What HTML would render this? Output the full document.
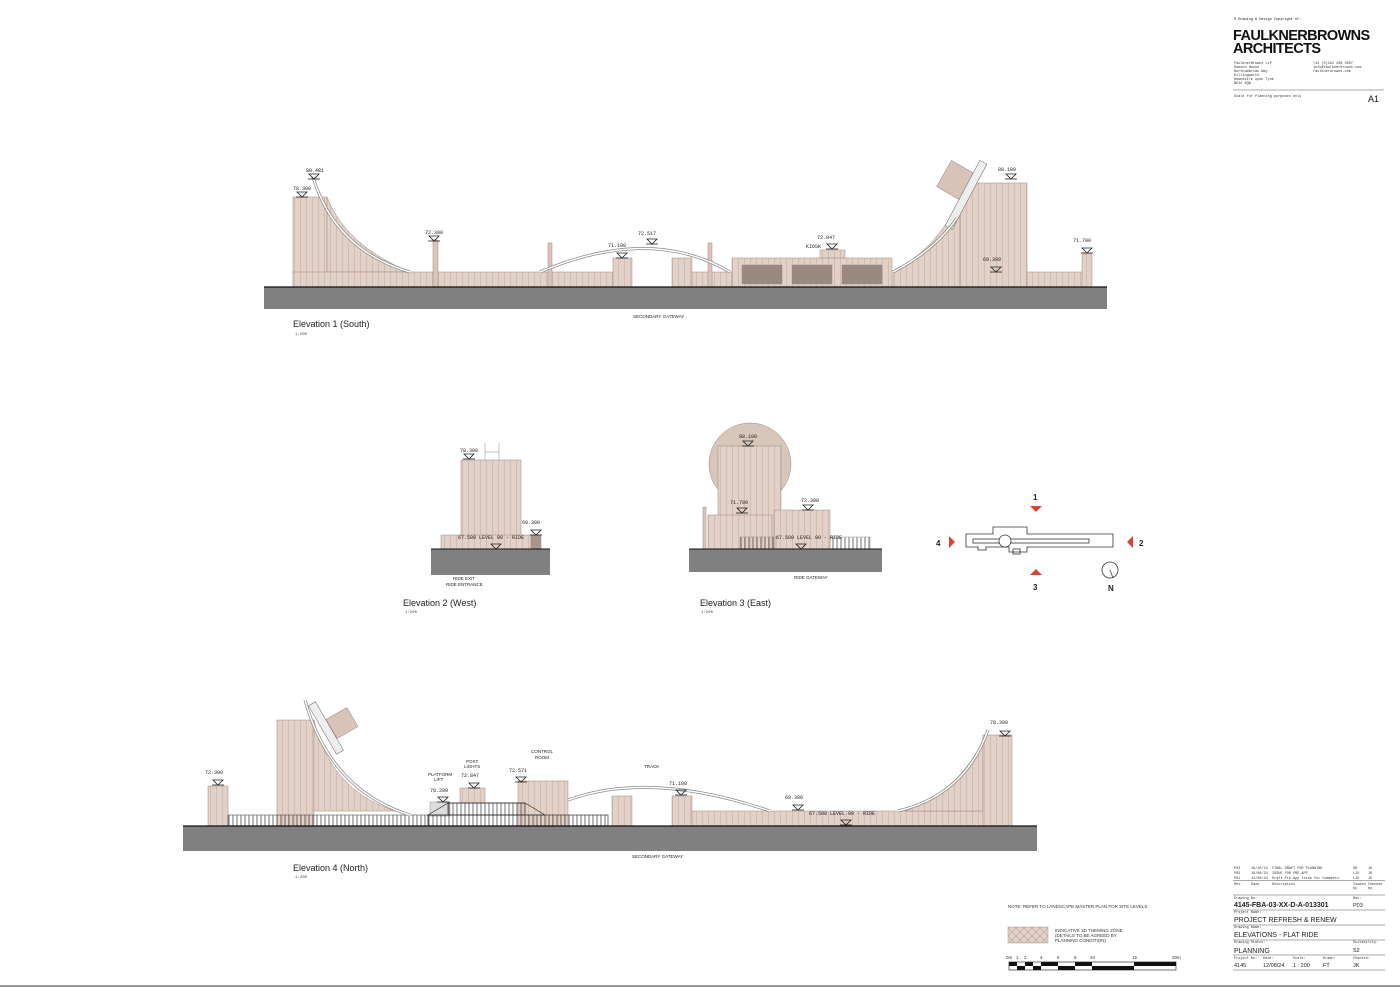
<!DOCTYPE html>
<html><head><meta charset="utf-8"><style>
html,body{margin:0;padding:0;background:#fff;}
svg{display:block;}
text{font-family:"Liberation Mono",monospace;}
text.s,.s text{font-family:"Liberation Sans",sans-serif;}
</style></head><body>
<svg width="1400" height="988" viewBox="0 0 1400 988" xmlns="http://www.w3.org/2000/svg">
<defs>
<pattern id="st" width="6" height="10" patternUnits="userSpaceOnUse"><rect width="6" height="10" fill="#e3d0c6"/><line x1="0.5" y1="0" x2="0.5" y2="10" stroke="#c7b1a6" stroke-width="0.6"/></pattern>
<pattern id="hx" width="8" height="8" patternUnits="userSpaceOnUse"><rect width="8" height="8" fill="#e3d0c6"/><path d="M0 0L8 8M8 0L0 8" stroke="#b9a296" stroke-width="0.6"/></pattern>
<pattern id="fn" width="4" height="10" patternUnits="userSpaceOnUse"><line x1="1" y1="0" x2="1" y2="10" stroke="#333" stroke-width="0.7"/></pattern>
<g id="lv"><path d="M-5 0h10l-5 5z" fill="none" stroke="#222" stroke-width="0.8"/><line x1="-6" y1="5" x2="6" y2="5" stroke="#222" stroke-width="0.8"/></g>
</defs>
<rect width="1400" height="988" fill="#fff"/>
<line x1="0" y1="986" x2="1400" y2="986" stroke="#999" stroke-width="2"/>

<!-- ============ ELEVATION 1 ============ -->
<g stroke="#a08a80" stroke-width="0.5">
<rect x="293" y="197" width="34" height="90" fill="url(#st)"/>
<path d="M327 197 Q345 245 410 272 L327 272Z" fill="url(#st)"/>
<rect x="293" y="272" width="257" height="15" fill="url(#st)"/>
<rect x="550" y="272" width="63" height="15" fill="url(#st)"/>
<rect x="613" y="258" width="19" height="29" fill="url(#st)"/>
<rect x="672" y="258" width="20" height="29" fill="url(#st)"/>
<rect x="692" y="272" width="40" height="15" fill="url(#st)"/>
<rect x="732" y="258" width="160" height="29" fill="url(#st)"/>
<rect x="742" y="265" width="40" height="19" fill="#9b8880"/>
<rect x="792" y="265" width="40" height="19" fill="#9b8880"/>
<rect x="842" y="265" width="40" height="19" fill="#9b8880"/>
<rect x="820" y="250" width="25" height="8" fill="url(#st)"/>
<path d="M893 272 Q935 250 960 200 L960 287 L893 287Z" fill="url(#st)"/>
<rect x="960" y="183" width="67" height="104" fill="url(#st)"/>
<rect x="1027" y="272" width="56" height="15" fill="url(#st)"/>
<rect x="1082" y="254" width="10" height="33" fill="url(#st)"/>
<rect x="433" y="240" width="5" height="47" fill="#d9c6bb"/>
<rect x="548" y="243" width="4" height="44" fill="#d9c6bb"/>
<rect x="708" y="243" width="4" height="44" fill="#d9c6bb"/>
<rect x="942" y="166" width="30" height="30" fill="#d7c3b8" transform="rotate(30 957 181)"/>
<rect x="962" y="158" width="8" height="74" fill="#eee" stroke="#666" transform="rotate(28 966 195)"/>
</g>
<path d="M313 177 Q335 250 410 272" fill="none" stroke="#888" stroke-width="3"/>
<path d="M313 177 Q335 250 410 272" fill="none" stroke="#fff" stroke-width="1.5"/>
<path d="M540 272 Q650 225 730 272" fill="none" stroke="#888" stroke-width="3"/>
<path d="M540 272 Q650 225 730 272" fill="none" stroke="#fff" stroke-width="1.5"/>
<path d="M893 272 Q935 250 957 218" fill="none" stroke="#888" stroke-width="3"/>
<path d="M893 272 Q935 250 957 218" fill="none" stroke="#fff" stroke-width="1.5"/>
<rect x="264" y="287" width="843" height="22" fill="#808080"/>
<line x1="264" y1="287" x2="1107" y2="287" stroke="#111" stroke-width="1.2"/>
<g font-size="5" fill="#222">
<text x="306" y="172">80.481</text><use href="#lv" x="314" y="174"/>
<text x="293" y="190">78.300</text><use href="#lv" x="302" y="192"/>
<text x="425" y="234">72.300</text><use href="#lv" x="434" y="236"/>
<text x="608" y="247">71.100</text><use href="#lv" x="622" y="253"/>
<text x="638" y="235">72.517</text><use href="#lv" x="652" y="239"/>
<text x="817" y="239">72.847</text><text x="806" y="248">KIOSK</text><use href="#lv" x="832" y="244"/>
<text x="998" y="171">88.100</text><use href="#lv" x="1011" y="174"/>
<text x="983" y="261">69.300</text><use href="#lv" x="996" y="267"/>
<text x="1073" y="242">71.700</text><use href="#lv" x="1087" y="248"/>
<text x="633" y="318" font-size="4.5" class="s">SECONDARY GATEWAY</text>
</g>
<text x="293" y="327" font-size="9" class="s" fill="#222">Elevation 1 (South)</text>
<text x="295" y="335" font-size="4" fill="#444">1:200</text>

<!-- ============ ELEVATION 2 ============ -->
<g stroke="#a08a80" stroke-width="0.5">
<rect x="461" y="460" width="60" height="76" fill="url(#st)"/>
<rect x="441" y="535" width="90" height="14" fill="url(#st)"/>
<rect x="531" y="535" width="10" height="14" fill="#a8958b"/>
<path d="M485 460V443M499 460V443M485 452H499" stroke="#888" fill="none"/>
</g>
<rect x="431" y="549" width="119" height="26" fill="#808080"/>
<line x1="431" y1="549" x2="550" y2="549" stroke="#111"/>
<g font-size="5" fill="#222">
<text x="460" y="452">78.300</text><use href="#lv" x="469" y="454"/>
<text x="522" y="524">69.300</text><use href="#lv" x="536" y="530"/>
<text x="458" y="539">67.500 LEVEL 00 - RIDE</text><use href="#lv" x="496" y="544"/>
<text x="453" y="580" font-size="4.5" class="s">RIDE EXIT</text>
<text x="446" y="586" font-size="4.5" class="s">RIDE ENTRANCE</text>
</g>
<text x="403" y="606" font-size="9" class="s" fill="#222">Elevation 2 (West)</text>
<text x="405" y="613" font-size="4" fill="#444">1:200</text>

<!-- ============ ELEVATION 3 ============ -->
<g stroke="#a08a80" stroke-width="0.5">
<circle cx="750" cy="464" r="41" fill="#d9c6bb"/>
<rect x="718" y="446" width="63" height="103" fill="url(#st)"/>
<rect x="708" y="515" width="64" height="34" fill="url(#st)"/>
<rect x="774" y="510" width="56" height="39" fill="url(#st)"/>
<rect x="703" y="507" width="3" height="42" fill="#d9c6bb"/>
<rect x="830" y="537" width="40" height="12" fill="url(#fn)"/>
<rect x="740" y="537" width="36" height="12" fill="url(#fn)"/>
</g>
<rect x="689" y="549" width="193" height="23" fill="#808080"/>
<line x1="689" y1="549" x2="882" y2="549" stroke="#111"/>
<g font-size="5" fill="#222">
<text x="739" y="438">88.100</text><use href="#lv" x="748" y="441"/>
<text x="730" y="504">71.700</text><use href="#lv" x="742" y="508"/>
<text x="801" y="502">72.300</text><use href="#lv" x="808" y="505"/>
<text x="776" y="539">67.500 LEVEL 00 - RIDE</text><use href="#lv" x="801" y="544"/>
<text x="794" y="579" font-size="4.5" class="s">RIDE GATEWAY</text>
</g>
<text x="700" y="606" font-size="9" class="s" fill="#222">Elevation 3 (East)</text>
<text x="701" y="613" font-size="4" fill="#444">1:200</text>

<!-- key plan -->
<g stroke="#333" stroke-width="0.8" fill="none">
<path d="M966 534H993V527H1027V534H1113V547H1027V552H1009V547H986V550H978V547H966Z" fill="#fff"/>
<rect x="973" y="539" width="116" height="4"/>
<circle cx="1005" cy="541" r="6" fill="#fff"/>
<rect x="1013" y="549" width="7" height="5"/>
<circle cx="1110" cy="570" r="8"/><line x1="1110" y1="570" x2="1113" y2="578"/>
</g>
<g fill="#d9422e">
<path d="M1030 506H1042L1036 512Z"/><path d="M1030 575H1042L1036 569Z"/>
<path d="M949 536V548L955 542Z"/><path d="M1133 536V548L1127 542Z"/>
</g>
<g font-size="8" class="s" font-weight="bold" fill="#222">
<text x="1033" y="500">1</text><text x="1033" y="590">3</text><text x="936" y="546">4</text><text x="1139" y="546">2</text><text x="1108" y="591">N</text>
</g>

<!-- ============ ELEVATION 4 ============ -->
<g stroke="#a08a80" stroke-width="0.5">
<rect x="208" y="786" width="20" height="40" fill="url(#st)"/>
<rect x="277" y="720" width="37" height="106" fill="url(#st)"/>
<path d="M314 720 Q330 790 395 811 L314 811Z" fill="url(#st)"/>
<rect x="228" y="815" width="200" height="11" fill="url(#fn)" stroke="#333"/>
<rect x="460" y="788" width="25" height="15" fill="url(#st)"/>
<rect x="518" y="781" width="50" height="45" fill="url(#st)"/>
<rect x="612" y="796" width="20" height="30" fill="url(#st)"/>
<rect x="672" y="796" width="20" height="30" fill="url(#st)"/>
<rect x="692" y="811" width="318" height="15" fill="url(#st)"/>
<path d="M905 811 Q960 790 983 740 L983 811Z" fill="url(#st)"/>
<rect x="983" y="735" width="29" height="91" fill="url(#st)"/>
<rect x="330" y="712" width="24" height="22" fill="#d7c3b8" transform="rotate(-30 342 723)"/>
<rect x="322" y="700" width="8" height="56" fill="#eee" stroke="#666" transform="rotate(-30 326 728)"/>
<rect x="430" y="802" width="20" height="14" fill="#ddd"/>
</g>
<g stroke="#333" stroke-width="0.7" fill="none">
<path d="M428 815 L448 803 H525 L545 815 Z"/>
<rect x="448" y="803" width="77" height="12" fill="url(#fn)"/>
<rect x="428" y="815" width="180" height="11" fill="url(#fn)"/>
</g>
<path d="M305 700 Q330 790 410 815" fill="none" stroke="#888" stroke-width="3"/>
<path d="M305 700 Q330 790 410 815" fill="none" stroke="#fff" stroke-width="1.5"/>
<path d="M568 800 Q650 770 770 811" fill="none" stroke="#888" stroke-width="3"/>
<path d="M568 800 Q650 770 770 811" fill="none" stroke="#fff" stroke-width="1.5"/>
<path d="M898 811 Q965 795 988 730" fill="none" stroke="#888" stroke-width="3"/>
<path d="M898 811 Q965 795 988 730" fill="none" stroke="#fff" stroke-width="1.5"/>
<rect x="183" y="826" width="854" height="25" fill="#808080"/>
<line x1="183" y1="826" x2="1037" y2="826" stroke="#111" stroke-width="1.2"/>
<g font-size="5" fill="#222">
<text x="205" y="774">72.300</text><use href="#lv" x="218" y="780"/>
<text x="428" y="776" class="s" font-size="4.5">PLATFORM</text><text x="434" y="781" class="s" font-size="4.5">LIFT</text>
<text x="430" y="792">70.200</text><use href="#lv" x="443" y="797"/>
<text x="466" y="763" class="s" font-size="4.5">POST</text><text x="464" y="768" class="s" font-size="4.5">LIGHTS</text>
<text x="461" y="777">72.847</text><use href="#lv" x="474" y="783"/>
<text x="531" y="753" class="s" font-size="4.5">CONTROL</text><text x="535" y="759" class="s" font-size="4.5">ROOM</text>
<text x="509" y="772">72.571</text><use href="#lv" x="521" y="777"/>
<text x="644" y="768" class="s" font-size="4.5">TRACK</text>
<text x="669" y="785">71.100</text><use href="#lv" x="681" y="790"/>
<text x="785" y="799">69.300</text><use href="#lv" x="798" y="805"/>
<text x="809" y="815">67.500 LEVEL 00 - RIDE</text><use href="#lv" x="846" y="820"/>
<text x="990" y="724">78.300</text><use href="#lv" x="1005" y="731"/>
<text x="632" y="858" font-size="4.5" class="s">SECONDARY GATEWAY</text>
</g>
<text x="293" y="871" font-size="9" class="s" fill="#222">Elevation 4 (North)</text>
<text x="295" y="878" font-size="4" fill="#444">1:200</text>

<!-- legend & scale -->
<text x="1008" y="908" font-size="4.5" class="s" fill="#333">NOTE: REFER TO LANDSCAPE MASTER PLAN FOR SITE LEVELS</text>
<rect x="1008" y="927" width="40" height="16" fill="url(#hx)" stroke="#999" stroke-width="0.5"/>
<text x="1055" y="932" font-size="4.5" class="s" fill="#333">INDICATIVE 3D THEMING ZONE</text>
<text x="1055" y="937" font-size="4.5" class="s" fill="#333">(DETAILS TO BE AGREED BY</text>
<text x="1055" y="942" font-size="4.5" class="s" fill="#333">PLANNING CONDITION)</text>
<g font-size="4.5" class="s" fill="#333">
<text x="1006" y="959">0m</text><text x="1016" y="959">1</text><text x="1024" y="959">2</text><text x="1040" y="959">4</text><text x="1057" y="959">6</text><text x="1074" y="959">8</text><text x="1090" y="959">10</text><text x="1132" y="959">15</text><text x="1172" y="959">20m</text>
</g>
<rect x="1009" y="962" width="167" height="8" fill="#fff" stroke="#111" stroke-width="0.6"/>
<g fill="#111">
<rect x="1009" y="962" width="8" height="4"/><rect x="1017" y="966" width="8" height="4"/><rect x="1025" y="962" width="8" height="4"/><rect x="1033" y="966" width="8" height="4"/>
<rect x="1041" y="962" width="17" height="4"/><rect x="1058" y="966" width="17" height="4"/><rect x="1075" y="962" width="17" height="4"/><rect x="1092" y="966" width="42" height="4"/><rect x="1134" y="962" width="42" height="4"/>
</g>

<!-- title block top -->
<g fill="#111">
<text x="1234" y="20" font-size="3.5">© Drawing &amp; Design Copyright of:</text>
<text x="1233" y="40" font-size="14.5" class="s" font-weight="bold" letter-spacing="-0.6">FAULKNERBROWNS</text>
<text x="1233" y="53" font-size="14.5" class="s" font-weight="bold" letter-spacing="-0.6">ARCHITECTS</text>
<g font-size="3.5" fill="#333">
<text x="1234" y="64">FaulknerBrowns LLP</text><text x="1234" y="68">Dobson House</text><text x="1234" y="72">Northumbrian Way</text><text x="1234" y="76">Killingworth</text><text x="1234" y="80">Newcastle upon Tyne</text><text x="1234" y="84">NE12 6QW</text>
<text x="1313" y="64">+44 (0)191 268 3007</text><text x="1313" y="68">info@faulknerbrowns.com</text><text x="1313" y="72">faulknerbrowns.com</text>
<text x="1234" y="97">Scale for Planning purposes only</text>
</g>
<line x1="1233" y1="90" x2="1384" y2="90" stroke="#555" stroke-width="0.6"/>
<text x="1368" y="102" font-size="9" class="s">A1</text>
</g>

<!-- title block bottom -->
<g font-size="3.5" fill="#333">
<text x="1234" y="869">P03</text><text x="1251" y="869">18/10/24</text><text x="1272" y="869">FINAL DRAFT FOR PLANNING</text><text x="1353" y="869">SH</text><text x="1368" y="869">JK</text>
<text x="1234" y="874">P02</text><text x="1251" y="874">18/08/24</text><text x="1272" y="874">ISSUE FOR PRE-APP</text><text x="1353" y="874">LJO</text><text x="1368" y="874">JK</text>
<text x="1234" y="879">P01</text><text x="1251" y="879">12/08/24</text><text x="1272" y="879">Draft Pre-App Issue for Comments</text><text x="1353" y="879">LJO</text><text x="1368" y="879">JK</text>
<text x="1234" y="885">Rev.</text><text x="1251" y="885">Date</text><text x="1272" y="885">Description</text><text x="1353" y="885">Issued Checked</text><text x="1353" y="889">by</text><text x="1368" y="889">by</text>
<text x="1234" y="899">Drawing No:</text><text x="1353" y="899">Rev:</text>
<text x="1234" y="913">Project Name:</text>
<text x="1234" y="928">Drawing Name:</text>
<text x="1234" y="943">Drawing Status:</text><text x="1353" y="943">Suitability:</text>
<text x="1234" y="959">Project No:</text><text x="1263" y="959">Date:</text><text x="1293" y="959">Scale:</text><text x="1323" y="959">Drawn:</text><text x="1353" y="959">Checked:</text>
</g>
<g stroke="#555" stroke-width="0.5">
<line x1="1233" y1="880.5" x2="1385" y2="880.5"/><line x1="1233" y1="895" x2="1385" y2="895"/>
<line x1="1233" y1="910" x2="1385" y2="910"/><line x1="1233" y1="925" x2="1385" y2="925"/>
<line x1="1233" y1="940" x2="1385" y2="940"/><line x1="1233" y1="955" x2="1385" y2="955"/>
<line x1="1233" y1="970" x2="1385" y2="970"/>
</g>
<g fill="#222" class="s">
<text x="1234" y="907" font-size="7" font-weight="bold">4145-FBA-03-XX-D-A-013301</text>
<text x="1353" y="907" font-size="5.5">P03</text>
<text x="1234" y="922" font-size="7">PROJECT REFRESH &amp; RENEW</text>
<text x="1234" y="937" font-size="7">ELEVATIONS - FLAT RIDE</text>
<text x="1234" y="953" font-size="7">PLANNING</text>
<text x="1353" y="952" font-size="5.5">S2</text>
<g font-size="5.5"><text x="1234" y="967">4145</text><text x="1263" y="967">12/08/24</text><text x="1293" y="967">1 : 200</text><text x="1323" y="967">FT</text><text x="1353" y="967">JK</text></g>
</g>
</svg>
</body></html>
